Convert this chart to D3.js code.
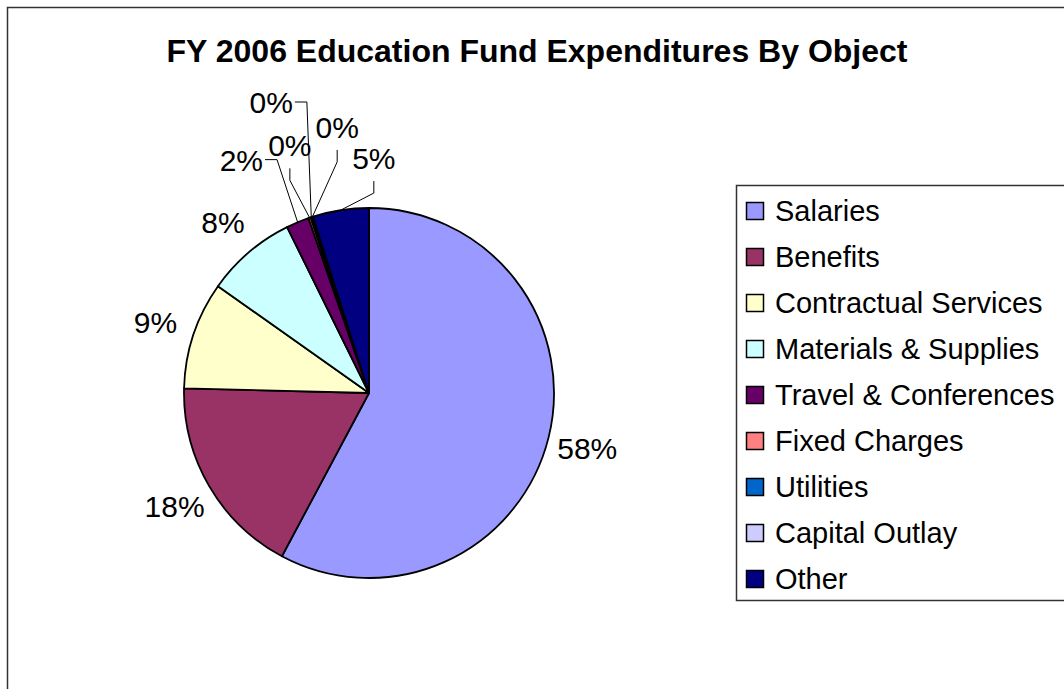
<!DOCTYPE html>
<html>
<head>
<meta charset="utf-8">
<script src="https://cdn.jsdelivr.net/npm/d3@7"></script>
<style>
  body { margin: 0; background: #fff; }
  svg { display: block; font-family: "Liberation Sans", Arial, sans-serif; }
</style>
</head>
<body>
<script>
// Chart data
const categories = ['Salaries', 'Benefits', 'Contractual Services', 'Materials & Supplies',
  'Travel & Conferences', 'Fixed Charges', 'Utilities', 'Capital Outlay', 'Other'];
const shares = [57.8, 17.6, 9.4, 7.9, 2.0, 0.2, 0.1, 0.1, 4.9];
const labels = ['58%', '18%', '9%', '8%', '2%', '0%', '0%', '0%', '5%'];
const colors = ['#9999FF', '#993366', '#FFFFCC', '#CCFFFF', '#660066',
  '#FF8080', '#0066CC', '#CCCCFF', '#000080'];

const title = 'FY 2006 Education Fund Expenditures By Object';

const width = 1064, height = 689;
const cx = 369, cy = 393, radius = 185;

// manual placement of the crowded little labels (angle shift in degrees, distance from centre)
const labelMoves = {
  4: { da: -6, r: 266 },
  5: { da: 1, r: 260 },
  6: { da: -0.4, r: 307 },
  7: { da: 11, r: 268 },
  8: { da: 10, r: 235 }
};

const svg = d3.select('body').append('svg')
  .attr('width', width)
  .attr('height', height);

// outer chart border (runs off the right and bottom edges)
svg.append('rect')
  .attr('x', 7.5).attr('y', 7.5)
  .attr('width', 1100).attr('height', 700)
  .attr('fill', 'none')
  .attr('stroke', '#333')
  .attr('stroke-width', 1.5);

svg.append('text')
  .attr('x', 537)
  .attr('y', 62)
  .attr('text-anchor', 'middle')
  .style('font-size', '32px')
  .style('font-weight', 'bold')
  .text(title);

const pie = d3.pie().sort(null).value(d => d)(shares);
const arc = d3.arc().innerRadius(0).outerRadius(radius);

const g = svg.append('g').attr('transform', `translate(${cx},${cy})`);

g.selectAll('path.slice')
  .data(pie)
  .enter().append('path')
  .attr('class', 'slice')
  .attr('d', arc)
  .attr('fill', (d, i) => colors[i])
  .attr('stroke', '#000')
  .attr('stroke-width', 1.8)
  .attr('stroke-linejoin', 'round');

// data labels
function polar(angle, r) {
  return [Math.sin(angle) * r, -Math.cos(angle) * r];
}

const labelSize = 30;

pie.forEach((d, i) => {
  const mid = (d.startAngle + d.endAngle) / 2;
  const move = labelMoves[i];
  let pos;
  if (move) {
    pos = polar(mid + move.da * Math.PI / 180, move.r);
  } else {
    pos = polar(mid, radius + 40);
  }
  const t = g.append('text')
    .attr('x', pos[0])
    .attr('y', pos[1] + 11)
    .attr('text-anchor', 'middle')
    .style('font-size', labelSize + 'px')
    .text(labels[i]);

  if (move) {
    // leader line from label to slice edge
    const w = t.node().getComputedTextLength();
    const target = polar(mid, radius);
    let pts;
    if (pos[0] + w / 2 < target[0] - 5) {
      const x0 = pos[0] + w / 2 + 2, y0 = pos[1];
      pts = [[x0, y0], [x0 + 12, y0], target];
    } else {
      const x0 = pos[0], y0 = pos[1] + 23;
      pts = [[x0, y0], [x0, y0 + 12], target];
    }
    g.append('path')
      .attr('d', d3.line()(pts))
      .attr('fill', 'none')
      .attr('stroke', '#000')
      .attr('stroke-width', 1);
  }
});

// legend
const legendX = 736, legendTop = 185;
const rowScale = d3.scaleBand()
  .domain(categories)
  .range([legendTop + 3, 602])
  .paddingInner(0);

svg.append('rect')
  .attr('x', legendX + 0.5)
  .attr('y', legendTop + 0.5)
  .attr('width', 400)
  .attr('height', 415)
  .attr('fill', '#fff')
  .attr('stroke', '#333')
  .attr('stroke-width', 1.5);

const rows = svg.selectAll('g.legend-row')
  .data(categories)
  .enter().append('g')
  .attr('class', 'legend-row')
  .attr('transform', d => `translate(${legendX}, ${rowScale(d) + rowScale.bandwidth() / 2})`);

rows.append('rect')
  .attr('x', 10.5)
  .attr('y', -8.5)
  .attr('width', 17)
  .attr('height', 17)
  .attr('fill', (d, i) => colors[i])
  .attr('stroke', '#000')
  .attr('stroke-width', 1.5);

rows.append('text')
  .attr('x', 39)
  .attr('y', 10)
  .style('font-size', '29px')
  .text(d => d);
</script>
</body>
</html>
